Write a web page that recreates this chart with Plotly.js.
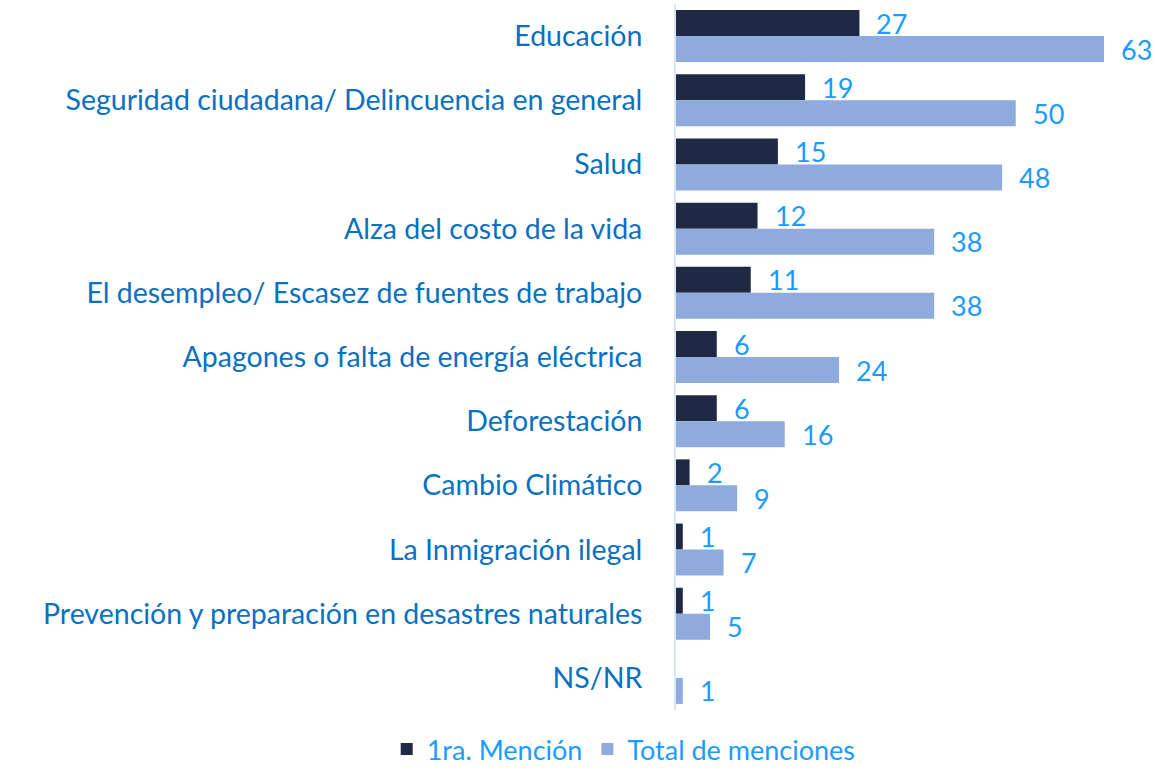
<!DOCTYPE html>
<html><head><meta charset="utf-8">
<script src="https://cdn.plot.ly/plotly-3.0.1.min.js"></script>
<style>body{margin:0;background:#fff}#c{width:1155px;height:774px}</style>
</head><body><div id="c"></div>
<script>
const categories = ["Educación","Seguridad ciudadana/ Delincuencia en general","Salud","Alza del costo de la vida","El desempleo/ Escasez de fuentes de trabajo","Apagones o falta de energía eléctrica","Deforestación","Cambio Climático","La Inmigración ilegal","Prevención y preparación en desastres naturales","NS/NR"];
const primera = [27,19,15,12,11,6,6,2,1,1,null];
const total = [63,50,48,38,38,24,16,9,7,5,1];
const seriesNames = ["1ra. Mención","Total de menciones"];

const font = "Lato, 'Open Sans', sans-serif";
const labelColor = "#1a9bff";
const annotations = [];
categories.forEach((c,i)=>{
  if (primera[i] != null) annotations.push({x:primera[i], y:c, text:String(primera[i]), xanchor:'left', yanchor:'middle', xshift:15, yshift:13, showarrow:false, font:{family:font,size:27,color:labelColor}});
  if (total[i] != null) annotations.push({x:total[i], y:c, text:String(total[i]), xanchor:'left', yanchor:'middle', xshift:15, yshift:-13, showarrow:false, font:{family:font,size:27,color:labelColor}});
});

const data = [
  {type:'bar', orientation:'h', name:seriesNames[0], y:categories, x:primera, marker:{color:'#1f2944'}, hoverinfo:'none'},
  {type:'bar', orientation:'h', name:seriesNames[1], y:categories, x:total, marker:{color:'#8faadc'}, hoverinfo:'none'}
];
const layout = {
  width:1155, height:774,
  margin:{l:676, r:0, t:4, b:64},
  paper_bgcolor:'#fff', plot_bgcolor:'#fff',
  barmode:'group', bargap:0.19, bargroupgap:0,
  font:{family:font},
  xaxis:{range:[0,70.5], visible:false, showgrid:false, zeroline:false},
  yaxis:{autorange:'reversed', showgrid:false, zeroline:false, showline:true, linecolor:'#d5e6f6', linewidth:2, ticks:'', ticklabelstandoff:26, tickfont:{family:font, size:28.5, color:'#0a70c0'}},
  showlegend:true,
  legend:{orientation:'h', x:0.54, xref:'container', xanchor:'center', y:0, yref:'container', yanchor:'bottom', font:{family:font,size:27,color:labelColor}, itemwidth:30, tracegroupgap:0},
  annotations:annotations
};
Plotly.newPlot('c', data, layout, {displayModeBar:false, staticPlot:true});
</script></body></html>
